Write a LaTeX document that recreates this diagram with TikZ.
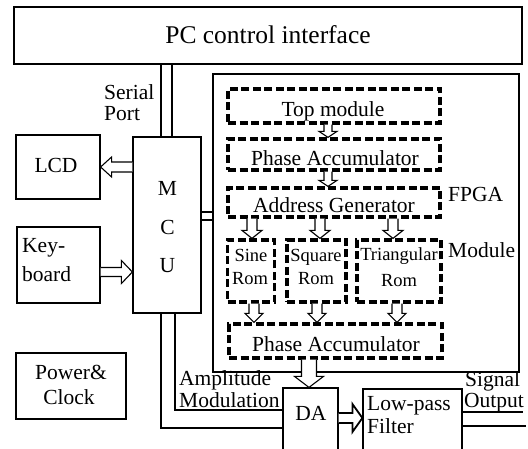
\documentclass[tikz,border=0pt]{standalone}
\usepackage{fontspec}
\setmainfont{Liberation Serif}
\usetikzlibrary{calc}

\newcommand{\fs}[1]{\fontsize{#1}{#1}\selectfont}
% hollow block arrow: [opts]{tail}{tip}{half shaft width}{half head width}{head length}
\newcommand{\blockarrow}[6][]{%
  \coordinate (ba-h) at ($(#3)!#6!(#2)$);
  \draw[blockarr,#1] ($(#2)!#4!90:(#3)$) -- ($(ba-h)!#4!90:(#3)$)
    -- ($(ba-h)!#5!90:(#3)$) -- (#3) -- ($(ba-h)!#5!-90:(#3)$)
    -- ($(ba-h)!#4!-90:(#3)$) -- ($(#2)!#4!-90:(#3)$);
}

\begin{document}
\begin{tikzpicture}[x=1pt,y=-1pt,
  box/.style={draw, line width=1.2pt, inner sep=0pt},
  dbox/.style={draw, line width=3.2pt, dash pattern=on 8pt off 3.5pt, inner sep=0pt},
  txt/.style={inner sep=0pt, anchor=base, font=\fs{21.5}},
  txtl/.style={txt, anchor=base west},
  rtxt/.style={inner sep=0pt, anchor=base, font=\fs{18.5}},
  blockarr/.style={draw, fill=white, line width=1.1pt, line join=miter},
  wire/.style={line width=1.2pt}]
\useasboundingbox (0,0) rectangle (528,449);
\clip (0,0) rectangle (528,449);

% solid blocks
\node[box, minimum width=508pt, minimum height=57pt] (pc) at (268,35.5) {};
\node[box, minimum width=306pt, minimum height=298pt] (fpga) at (366,223) {};
\node[box, minimum width=68pt, minimum height=176pt] (mcu) at (167,225) {};
\node[box, minimum width=84pt, minimum height=64pt] (lcd) at (58,167) {};
\node[box, minimum width=83pt, minimum height=76pt] (kb) at (58.5,265) {};
\node[box, minimum width=110pt, minimum height=66pt] (pwr) at (71,386) {};
\node[box, minimum width=55pt, minimum height=82pt] (da) at (310.5,429) {};
\node[box, minimum width=99pt, minimum height=81pt] (lpf) at (412.5,429.5) {};

% FPGA modules
\node[dbox, minimum width=212pt, minimum height=34pt] (topm) at (334,106) {};
\node[dbox, minimum width=212pt, minimum height=31pt] (pa1) at (334,154.5) {};
\node[dbox, minimum width=212pt, minimum height=29pt] (ag) at (334,202.5) {};
\node[dbox, minimum width=47pt, minimum height=62pt] (sine) at (251,271) {};
\node[dbox, minimum width=59pt, minimum height=62pt] (sq) at (316.5,271) {};
\node[dbox, minimum width=84pt, minimum height=62pt] (tri) at (399,271) {};
\node[dbox, minimum width=213pt, minimum height=34pt] (pa2) at (335.5,341) {};

% labels
\node[inner sep=0pt, anchor=base, font=\fs{25.5}] (tpc) at (268,44) {PC control interface};
\node[txt] (ttop) at (333,117) {Top module};
\node[txt] (tpa1) at (335,166) {Phase Accumulator};
\node[txt] (tag) at (334,213) {Address Generator};
\node[rtxt] (tsine1) at (251,262) {Sine};
\node[rtxt] (tsine2) at (250,285) {Rom};
\node[rtxt] (tsq1) at (316,262) {Square};
\node[rtxt] (tsq2) at (316,285) {Rom};
\node[rtxt] (ttri1) at (399,261) {Triangular};
\node[rtxt] (ttri2) at (399,287) {Rom};
\node[txt] (tpa2) at (336,352) {Phase Accumulator};
\node[txt] (tlcd) at (56,173) {LCD};
\node[txtl] (tkb1) at (22,253) {Key-};
\node[txtl] (tkb2) at (22,282) {board};
\node[txt] (tpw1) at (71,379) {Power\&};
\node[txt] (tpw2) at (69,404) {Clock};
\node[txt] (tm) at (167.5,196) {M};
\node[txt] (tc) at (167.5,235) {C};
\node[txt] (tu) at (167.5,273) {U};
\node[txtl] (tser1) at (104,100) {Serial};
\node[txtl] (tser2) at (104,121) {Port};
\node[txtl] (tfpga) at (448,202) {FPGA};
\node[txtl] (tmod) at (448,258) {Module};
\node[txtl] (tam1) at (179,385) {Amplitude};
\node[txtl] (tam2) at (179,407) {Modulation};
\node[txtl] (tso1) at (465,386) {Signal};
\node[txtl] (tso2) at (464,407) {Output};
\node[txt] (tda) at (311,420) {DA};
\node[txtl] (tlp1) at (367,410) {Low-pass};
\node[txtl] (tlp2) at (367,433) {Filter};

% wires
\draw[wire] (161,0 |- pc.south) -- (161,0 |- mcu.north);
\draw[wire] (172,0 |- pc.south) -- (172,0 |- mcu.north);
\draw[wire] (mcu.east |- 0,212) -- (fpga.west |- 0,212);
\draw[wire] (mcu.east |- 0,220) -- (fpga.west |- 0,220);
\draw[wire] (175,0 |- mcu.south) |- (da.west |- 0,410);
\draw[wire] (161,0 |- mcu.south) |- (da.west |- 0,428);
\coordinate (out1) at (523,412);
\coordinate (out2) at (526,426);
\draw[wire] (lpf.east |- out1) -- (out1);
\draw[wire] (lpf.east |- out2) -- (out2);

% hollow arrows
\coordinate (a1s) at (328,0 |- topm.south); \coordinate (a1e) at (328,0 |- pa1.north);
\coordinate (a2s) at (328,0 |- pa1.south); \coordinate (a2e) at (328,0 |- ag.north);
\blockarrow{a1s}{a1e}{4pt}{9pt}{6pt}
\blockarrow{a2s}{a2e}{4pt}{9pt}{6pt}
\coordinate (b1s) at (252,0 |- ag.south); \coordinate (b1e) at (252,0 |- sine.north);
\coordinate (b2s) at (320,0 |- ag.south); \coordinate (b2e) at (320,0 |- sq.north);
\coordinate (b3s) at (393,0 |- ag.south); \coordinate (b3e) at (393,0 |- tri.north);
\blockarrow{b1s}{b1e}{5pt}{10pt}{8pt}
\blockarrow{b2s}{b2e}{5pt}{10pt}{8pt}
\blockarrow{b3s}{b3e}{5pt}{10pt}{8pt}
\coordinate (c1s) at (254,0 |- sine.south); \coordinate (c1e) at (254,0 |- pa2.north);
\coordinate (c2s) at (317,0 |- sq.south); \coordinate (c2e) at (317,0 |- pa2.north);
\coordinate (c3s) at (397,0 |- tri.south); \coordinate (c3e) at (397,0 |- pa2.north);
\blockarrow{c1s}{c1e}{5pt}{9pt}{9pt}
\blockarrow{c2s}{c2e}{5pt}{9pt}{9pt}
\blockarrow{c3s}{c3e}{5pt}{9pt}{9pt}
\coordinate (ds) at (309,0 |- pa2.south); \coordinate (de) at (309,0 |- da.north);
\blockarrow{ds}{de}{7.5pt}{14.5pt}{11pt}
\coordinate (ls) at (mcu.west |- lcd.east);
\blockarrow{ls}{lcd.east}{5pt}{10pt}{11pt}
\coordinate (ks) at (kb.east |- 0,272); \coordinate (ke) at (mcu.west |- 0,272);
\blockarrow{ks}{ke}{4.5pt}{11.5pt}{11pt}
\coordinate (fs) at (da.east |- 0,418); \coordinate (fe) at (lpf.west |- 0,418);
\blockarrow[line width=1.8pt]{fs}{fe}{5pt}{14pt}{10pt}
\end{tikzpicture}
\end{document}
